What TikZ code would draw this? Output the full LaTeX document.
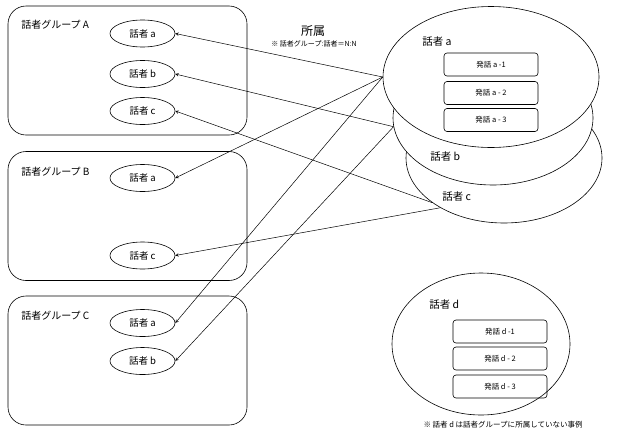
\documentclass[tikz,border=0pt]{standalone}
\usepackage{fontspec}
\setmainfont{Noto Sans CJK JP}
\usepackage{tikz}
\usetikzlibrary{positioning}
\usetikzlibrary{arrows}
\usetikzlibrary{shapes.geometric}
\tikzset {
  % speaker group frames
  group/.style = {draw, rounded corners=18pt, minimum width=239pt, minimum height=129pt},
  grouplabel/.style = {anchor=west, inner sep=0pt, font=\fontsize{10}{12}\selectfont},
  % speaker inside a group
  member/.style = {draw, ellipse, minimum width=65pt, minimum height=27pt, inner sep=0pt, font=\fontsize{9.5}{11}\selectfont},
  % speakers holding utterances
  speaker/.style = {draw, ellipse, fill=white, inner sep=0pt},
  speakerlabel/.style = {anchor=west, inner sep=0pt, font=\fontsize{10.5}{12}\selectfont},
  utter/.style = {draw, rounded corners=3pt, minimum width=94pt, minimum height=23pt, inner sep=0pt, font=\fontsize{7.5}{9}\selectfont},
  % group membership
  belong/.style = {->, >=stealth, line width=0.5pt},
  note/.style = {inner sep=0pt, font=\fontsize{7.5}{9}\selectfont},
}

\begin{document}
\begin{tikzpicture}[x=1pt, y=-1pt, line width=0.6pt]
      \useasboundingbox (0,0) rectangle (617,442);

      \node[group] (A) at (127.5, 70.5) {};
      \node[group] (B) at (127.5, 216) {};
      \node[group] (C) at (127.5, 360.5) {};
      \node[grouplabel] (Al) at (21, 25) {話者グループ A};
      \node[grouplabel] (Bl) at (21, 172) {話者グループ B};
      \node[grouplabel] (Cl) at (21, 316) {話者グループ C};

      \node[member] (Aa) at (142.5, 33.5) {話者 a};
      \node[member] (Ab) at (142.5, 74) {話者 b};
      \node[member] (Ac) at (142.5, 111) {話者 c};
      \node[member] (Ba) at (142.5, 178) {話者 a};
      \node[member] (Bc) at (142.5, 255.5) {話者 c};
      \node[member] (Ca) at (142.5, 323) {話者 a};
      \node[member] (Cb) at (142.5, 361) {話者 b};

      \node[speaker, minimum width=196pt, minimum height=130pt] (sc) at (504, 158) {};
      \node[speaker, minimum width=200pt, minimum height=134pt] (sb) at (493, 118) {};
      \node[speaker, minimum width=216pt, minimum height=141pt] (sa) at (491, 77) {};
      \node[speakerlabel] (sal) at (422, 42) {話者 a};
      \node[speakerlabel] (sbl) at (430, 157) {話者 b};
      \node[speakerlabel] (scl) at (442, 197) {話者 c};

      \node[utter] (a1) at (491, 64.5) {発話 a -1};
      \node[utter] (a2) at (491, 93) {発話 a - 2};
      \node[utter] (a3) at (491, 120) {発話 a - 3};

      \node[speaker, minimum width=178pt, minimum height=142pt] (sd) at (481, 344) {};
      \node[speakerlabel] (sdl) at (429, 305) {話者 d};
      \node[utter] (d1) at (500, 331.5) {発話 d -1};
      \node[utter] (d2) at (500, 358.5) {発話 d - 2};
      \node[utter] (d3) at (500, 386.5) {発話 d - 3};
      \node[note] (dnote) at (503, 425) {※ 話者 d は話者グループに所属していない事例};

      \node[inner sep=0pt, font=\fontsize{12}{14}\selectfont] (title) at (313, 31) {所属};
      \node[note, font=\fontsize{7}{8}\selectfont] (titlenote) at (314, 44) {※ 話者グループ:話者＝N:N};

      \draw [belong] (sa.west) -- (Aa.east);
      \draw [belong] (sa.west) -- (Ba.east);
      \draw [belong] (sa.west) -- (Ca.east);
      \draw [belong] (sb.185) -- (Ab.east);
      \draw [belong] (sb.185) -- (Cb.east);
      \draw [belong] (sc.212) -- (Ac.east);
      \draw [belong] (sc.218) -- (Bc.east);
    \end{tikzpicture}
\end{document}
